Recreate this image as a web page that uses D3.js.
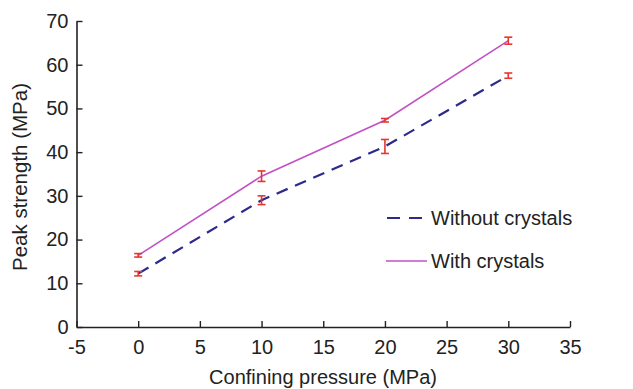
<!DOCTYPE html>
<html>
<head>
<meta charset="utf-8">
<script src="https://cdn.jsdelivr.net/npm/d3@7"></script>
<style>
  body { margin: 0; background: #fff; }
  text { font-family: "Liberation Sans", Arial, sans-serif; fill: #222; }
</style>
</head>
<body>
<svg id="chart" width="633" height="389"></svg>
<script>
const pressure = [0, 10, 20, 30]
const withoutCrystals = [12.2, 29.0, 41.3, 57.5]
const withoutErr = [0.5, 1.0, 1.6, 0.6]
const withCrystals = [16.4, 34.5, 47.3, 65.5]
const withErr = [0.4, 1.2, 0.4, 0.8]
const xTicks = [-5, 0, 5, 10, 15, 20, 25, 30, 35]
const yTicks = [0, 10, 20, 30, 40, 50, 60, 70]

const svg = d3.select('#chart')
const margin = { top: 21, right: 63, bottom: 62, left: 76.5 }
const width = 633 - margin.left - margin.right
const height = 389 - margin.top - margin.bottom

const g = svg.append('g').attr('transform', `translate(${margin.left},${margin.top})`)

const x = d3.scaleLinear().domain([-5, 35]).range([0, width])
const y = d3.scaleLinear().domain([0, 70]).range([height, 0])

// axes, ticks pointing inward; plain hyphen for negatives
const fmt = d => String(d)
const xAxis = g.append('g')
  .attr('transform', `translate(0,${height})`)
  .call(d3.axisBottom(x).tickValues(xTicks).tickFormat(fmt).tickSizeInner(-6).tickSizeOuter(0).tickPadding(11))
const yAxis = g.append('g')
  .call(d3.axisLeft(y).tickValues(yTicks).tickFormat(fmt).tickSizeInner(-6).tickSizeOuter(0).tickPadding(8))

;[xAxis, yAxis].forEach(a => {
  a.select('.domain').attr('stroke', '#222').attr('stroke-width', 1.6)
  a.selectAll('.tick line').attr('stroke', '#222').attr('stroke-width', 1.4)
  a.selectAll('.tick text').style('font-size', '20px').attr('fill', '#222')
})
xAxis.selectAll('.tick text').attr('dy', '0.78em')

svg.append('text')
  .attr('x', 323)
  .attr('y', 384)
  .attr('text-anchor', 'middle')
  .style('font-size', '20px')
  .text('Confining pressure (MPa)')

svg.append('text')
  .attr('transform', 'translate(27,177) rotate(-90)')
  .attr('text-anchor', 'middle')
  .style('font-size', '20.5px')
  .text('Peak strength (MPa)')

const line = d3.line().x(d => x(d[0])).y(d => y(d[1]))

g.append('path')
  .datum(d3.zip(pressure, withoutCrystals))
  .attr('fill', 'none')
  .attr('stroke', '#2d2a8c')
  .attr('stroke-width', 2.2)
  .attr('stroke-dasharray', '12,8')
  .attr('d', line)

g.append('path')
  .datum(d3.zip(pressure, withCrystals))
  .attr('fill', 'none')
  .attr('stroke', '#c251c4')
  .attr('stroke-width', 1.6)
  .attr('d', line)

// error bars
const errColor = '#e5362f'
function errorBars(vals, errs) {
  vals.forEach((v, i) => {
    const cx = x(pressure[i])
    const lo = y(v - errs[i])
    const hi = y(v + errs[i])
    g.append('line').attr('x1', cx).attr('x2', cx).attr('y1', lo).attr('y2', hi)
      .attr('stroke', errColor).attr('stroke-width', 1.6)
    ;[lo, hi].forEach(yy => {
      g.append('line').attr('x1', cx - 4).attr('x2', cx + 4).attr('y1', yy).attr('y2', yy)
        .attr('stroke', errColor).attr('stroke-width', 1.6)
    })
  })
}
errorBars(withoutCrystals, withoutErr)
errorBars(withCrystals, withErr)

// legend
const legend = svg.append('g').attr('transform', 'translate(387,218)')
legend.append('line').attr('x1', 0).attr('x2', 35).attr('y1', 0).attr('y2', 0)
  .attr('stroke', '#2d2a8c').attr('stroke-width', 2.2).attr('stroke-dasharray', '13,9')
legend.append('text').attr('x', 44).attr('y', 0).attr('dy', '0.35em')
  .style('font-size', '20px').text('Without crystals')
legend.append('line').attr('x1', -1).attr('x2', 40).attr('y1', 43).attr('y2', 43)
  .attr('stroke', '#c251c4').attr('stroke-width', 1.6)
legend.append('text').attr('x', 44).attr('y', 43).attr('dy', '0.35em')
  .style('font-size', '20px').text('With crystals')
</script>
</body>
</html>
